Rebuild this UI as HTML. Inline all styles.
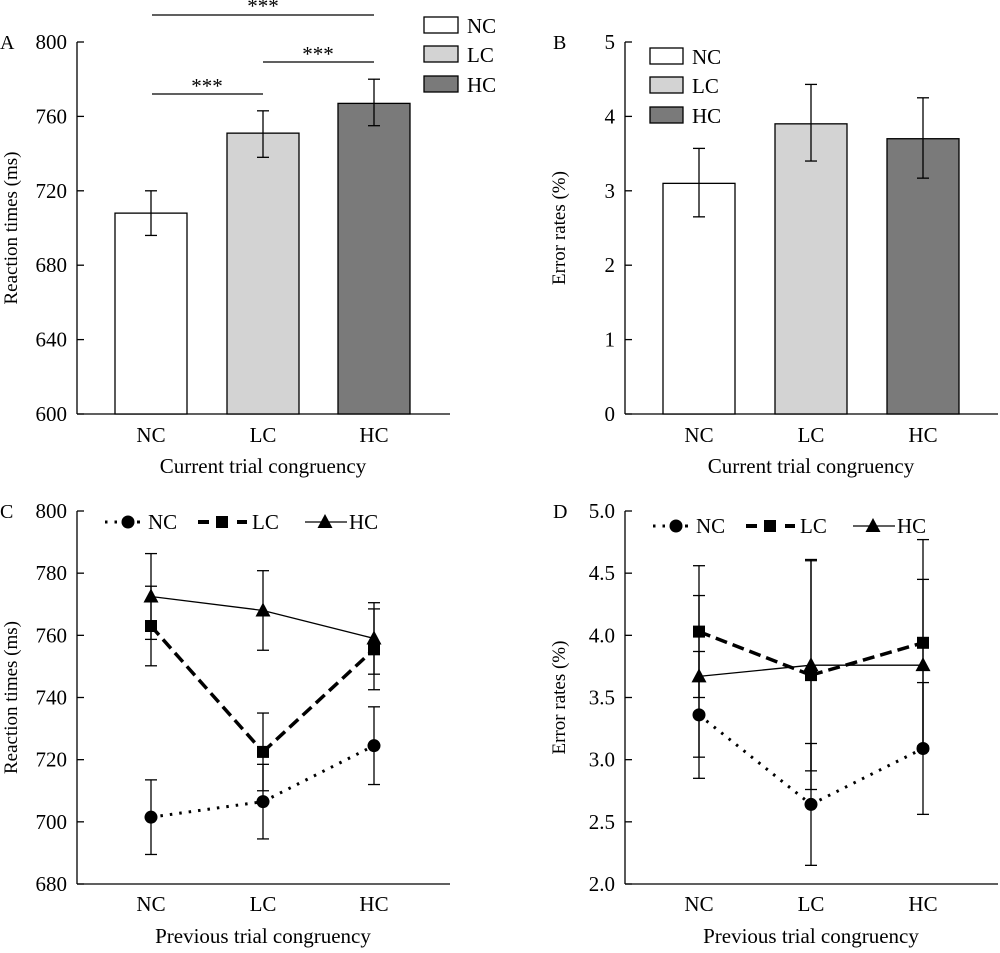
<!DOCTYPE html>
<html><head><meta charset="utf-8"><style>
html,body{margin:0;padding:0;background:#fff;}
text{font-family:"Liberation Serif","Times New Roman","DejaVu Serif",serif;}
</style></head><body>
<svg id="s" width="1000" height="948" viewBox="0 0 1000 948" xmlns="http://www.w3.org/2000/svg"></svg>
<script>
const s=document.getElementById('s');let h='';
function L(x1,y1,x2,y2,w,d){h+=`<line x1="${x1}" y1="${y1}" x2="${x2}" y2="${y2}" stroke="#000" stroke-width="${w||1.3}" ${d?`stroke-dasharray="${d}"`:''}/>`;}
function T(x,y,t,a,fs){h+=`<text x="${x}" y="${y}" font-size="${fs||21}" text-anchor="${a||'middle'}">${t}</text>`;}
function axes(ax,top,bot,right,ticks,fmt,ylab,letter,lx){
 L(ax,top,ax,bot);L(ax,bot,right,bot);
 ticks.forEach(([v,y])=>{L(ax,y,ax+7,y);T(ax-10,y+7,fmt(v),'end');});
 h+=`<text transform="translate(${ax-60},${(top+bot)/2}) rotate(-90)" font-size="19" text-anchor="middle">${ylab}</text>`;
 T(lx,top+7,letter,'start',20);
}
function err(x,y1,y2){L(x,y1,x,y2);L(x-6,y1,x+6,y1);L(x-6,y2,x+6,y2);}
const fills=['#fff','#d3d3d3','#7a7a7a'],labs=['NC','LC','HC'];
// Panel A
{const ax=77,top=42,bot=414;const Y=v=>bot-(v-600)/200*(bot-top);
 const cx=[151,263,374];
 axes(ax,top,bot,450,[800,760,720,680,640,600].map(v=>[v,Y(v)]),v=>v,'Reaction times (ms)','A',0);
 const m=[708,751,767],e=[[696,720],[738,763],[755,780]];
 m.forEach((v,i)=>{h+=`<rect x="${cx[i]-36}" y="${Y(v)}" width="72" height="${bot-Y(v)}" fill="${fills[i]}" stroke="#000" stroke-width="1.3"/>`;err(cx[i],Y(e[i][0]),Y(e[i][1]));T(cx[i],442,labs[i]);});
 T(263,473,'Current trial congruency');
 L(152,94,263,94);T(207,93,'***');L(263,62,374,62);T(318,61,'***');L(152,15,374,15);T(263,13,'***');
 [17,46,76].forEach((y,i)=>{h+=`<rect x="424" y="${y}" width="34" height="16" fill="${fills[i]}" stroke="#000" stroke-width="1.3"/>`;T(467,y+16,labs[i],'start');});
}
// Panel B
{const ax=625,top=42,bot=414;const Y=v=>bot-v/5*(bot-top);
 const cx=[699,811,923];
 axes(ax,top,bot,998,[5,4,3,2,1,0].map(v=>[v,Y(v)]),v=>v,'Error rates (%)','B',553);
 const m=[3.1,3.9,3.7],e=[[2.65,3.57],[3.4,4.43],[3.17,4.25]];
 m.forEach((v,i)=>{h+=`<rect x="${cx[i]-36}" y="${Y(v)}" width="72" height="${bot-Y(v)}" fill="${fills[i]}" stroke="#000" stroke-width="1.3"/>`;err(cx[i],Y(e[i][0]),Y(e[i][1]));T(cx[i],442,labs[i]);});
 T(811,473,'Current trial congruency');
 [48,77,107].forEach((y,i)=>{h+=`<rect x="650" y="${y}" width="33" height="16" fill="${fills[i]}" stroke="#000" stroke-width="1.3"/>`;T(692,y+16,labs[i],'start');});
}
function circ(x,y){h+=`<circle cx="${x}" cy="${y}" r="6.5" fill="#000"/>`;}
function sq(x,y){h+=`<rect x="${x-6}" y="${y-6}" width="12" height="12" fill="#000"/>`;}
function tri(x,y){h+=`<polygon points="${x},${y-8} ${x-7.5},${y+6} ${x+7.5},${y+6}" fill="#000"/>`;}
function line(cx,Y,d,w,da){for(let i=0;i<2;i++)L(cx[i],Y(d[i]),cx[i+1],Y(d[i+1]),w,da);}
function legend(x0,y){L(x0+2,y,x0+16,y,3,'2.5 7');circ(x0+25,y);L(x0+34,y,x0+37,y,3);T(x0+45,y+7,'NC','start');
 L(x0+95,y,x0+106,y,4);sq(x0+119,y);L(x0+134,y,x0+144,y,4);T(x0+149,y+7,'LC','start');
 L(x0+202,y,x0+244,y,1.3);tri(x0+222,y);T(x0+246,y+7,'HC','start');}
// Panel C
{const ax=77,top=511,bot=884;const Y=v=>bot-(v-680)/120*(bot-top);const cx=[151,263,374];
 axes(ax,top,bot,450,[800,780,760,740,720,700,680].map(v=>[v,Y(v)]),v=>v,'Reaction times (ms)','C',0);
 const NC=[701.5,706.5,724.5],LC=[763,722.5,755.5],HC=[772.5,768,759];
 const eN=[12,12,12.5],eL=[12.8,12.5,13],eH=[13.8,12.8,11.5];
 [[NC,eN],[LC,eL],[HC,eH]].forEach(([d,e])=>d.forEach((v,i)=>err(cx[i],Y(v-e[i]),Y(v+e[i]))));
 line(cx,Y,NC,3,'2.5 7');line(cx,Y,LC,3.5,'12 6');line(cx,Y,HC,1.3);
 NC.forEach((v,i)=>circ(cx[i],Y(v)));LC.forEach((v,i)=>sq(cx[i],Y(v)));HC.forEach((v,i)=>tri(cx[i],Y(v)));
 labs.forEach((l,i)=>T(cx[i],911,l));T(263,943,'Previous trial congruency');
 legend(103,522);
}
// Panel D
{const ax=625,top=511,bot=884;const Y=v=>bot-(v-2)/3*(bot-top);const cx=[699,811,923];
 axes(ax,top,bot,998,[5,4.5,4,3.5,3,2.5,2].map(v=>[v,Y(v)]),v=>v.toFixed(1),'Error rates (%)','D',553);
 const NC=[3.36,2.64,3.09],LC=[4.03,3.68,3.94],HC=[3.67,3.76,3.76];
 const eN=[0.51,0.49,0.53],eL=[0.53,0.92,0.83],eH=[0.65,0.85,0.69];
 [[NC,eN],[LC,eL],[HC,eH]].forEach(([d,e])=>d.forEach((v,i)=>err(cx[i],Y(v-e[i]),Y(v+e[i]))));
 line(cx,Y,NC,3,'2.5 7');line(cx,Y,LC,3.5,'12 6');line(cx,Y,HC,1.3);
 NC.forEach((v,i)=>circ(cx[i],Y(v)));LC.forEach((v,i)=>sq(cx[i],Y(v)));HC.forEach((v,i)=>tri(cx[i],Y(v)));
 labs.forEach((l,i)=>T(cx[i],911,l));T(811,943,'Previous trial congruency');
 legend(651,526);
}
s.innerHTML=h;
</script>
</body></html>
